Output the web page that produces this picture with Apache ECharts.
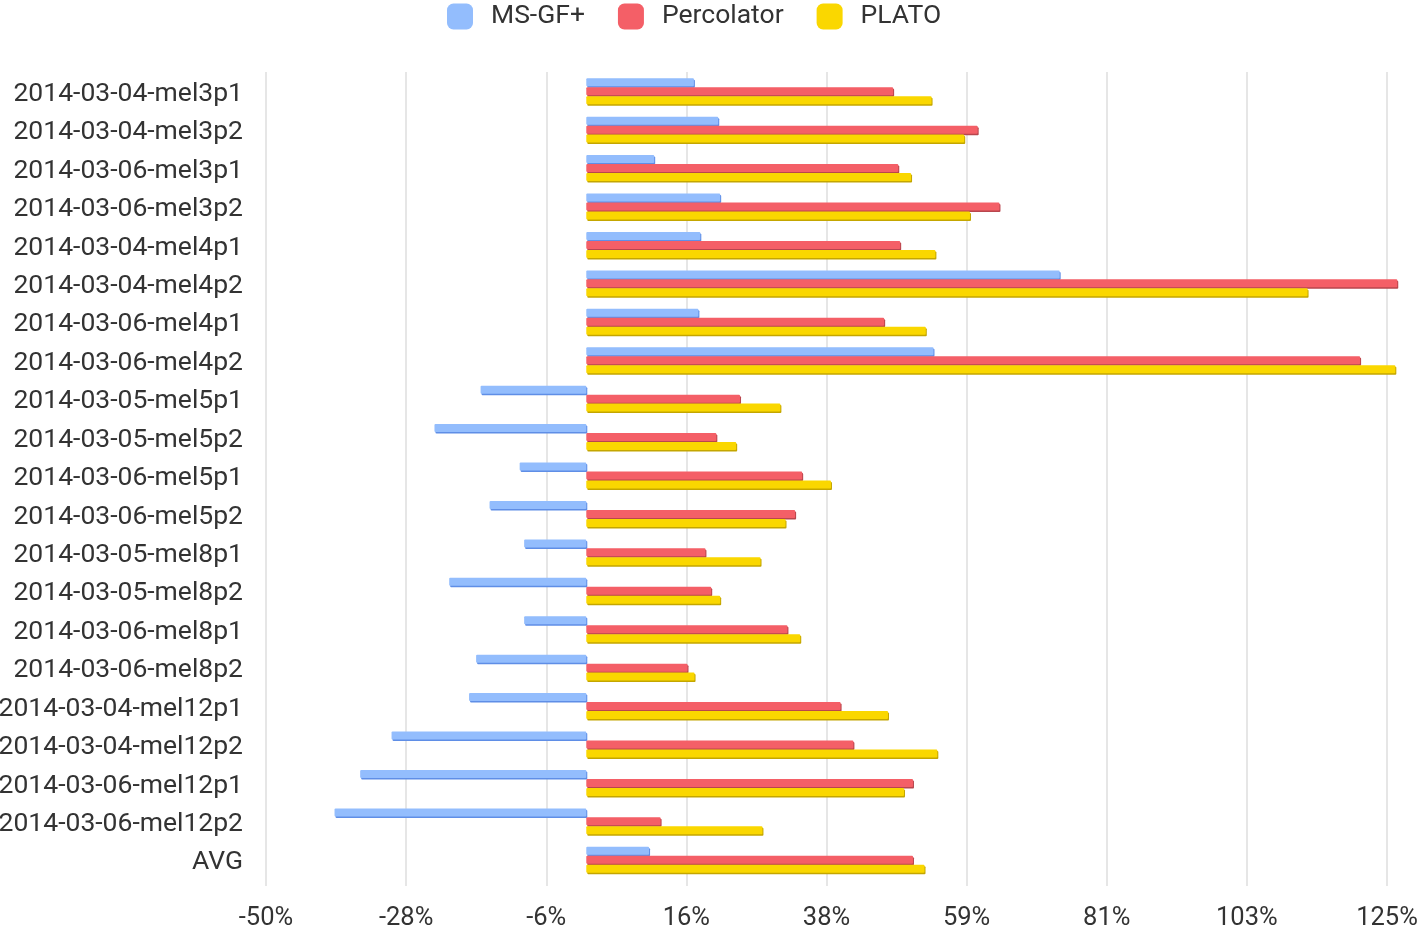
<!DOCTYPE html>
<html>
<head>
<meta charset="utf-8">
<script src="https://cdn.jsdelivr.net/npm/echarts@6/dist/echarts.min.js"></script>
<style>
  html, body { margin: 0; padding: 0; background: #fff; }
  #chart { width: 1419px; height: 928px; }
</style>
</head>
<body>
<div id="chart"></div>
<script>
const categories = [
  '2014-03-04-mel3p1', '2014-03-04-mel3p2', '2014-03-06-mel3p1', '2014-03-06-mel3p2',
  '2014-03-04-mel4p1', '2014-03-04-mel4p2', '2014-03-06-mel4p1', '2014-03-06-mel4p2',
  '2014-03-05-mel5p1', '2014-03-05-mel5p2', '2014-03-06-mel5p1', '2014-03-06-mel5p2',
  '2014-03-05-mel8p1', '2014-03-05-mel8p2', '2014-03-06-mel8p1', '2014-03-06-mel8p2',
  '2014-03-04-mel12p1', '2014-03-04-mel12p2', '2014-03-06-mel12p1', '2014-03-06-mel12p2',
  'AVG'
];
const msgfValues = [
  16.8, 20.6, 10.6, 20.9, 17.8, 73.9, 17.5, 54.2,
  -16.5, -23.7, -10.4, -15.1, -9.7, -21.4, -9.7, -17.2,
  -18.3, -30.4, -35.3, -39.3, 9.8
];
const percolatorValues = [
  47.9, 61.1, 48.7, 64.5, 49.0, 126.6, 46.5, 120.8,
  24.0, 20.3, 33.7, 32.6, 18.6, 19.5, 31.4, 15.8,
  39.7, 41.7, 51.0, 11.6, 51.0
];
const platoValues = [
  53.9, 59.0, 50.7, 59.9, 54.5, 112.6, 53.0, 126.3,
  30.3, 23.4, 38.2, 31.1, 27.2, 20.9, 33.4, 16.9,
  47.1, 54.8, 49.6, 27.5, 52.8
];
const seriesNames = ['MS-GF+', 'Percolator', 'PLATO'];
const seriesColors = ['#93bdfd', '#f45f67', '#fad700'];
const shadowColors = ['#5f8ee6', '#b8464d', '#c4a600'];
const xMin = -50, xMax = 125, xInterval = 21.875;

const chart = echarts.init(document.getElementById('chart'), null, { renderer: 'canvas' });
const font = 'Roboto, "Noto Sans", sans-serif';
const allValues = [msgfValues, percolatorValues, platoValues];

const option = {
  animation: false,
  textStyle: { fontFamily: font },
  legend: {
    top: -2,
    left: 442,
    icon: 'roundRect',
    itemWidth: 26,
    itemHeight: 26,
    itemGap: 33,
    textStyle: { fontSize: 26.5, color: '#333', fontFamily: font, padding: [0, 0, 0, 13] },
    data: seriesNames
  },
  grid: { left: 266, right: 32, top: 72, bottom: 49, containLabel: false, outerBoundsMode: 'none' },
  xAxis: {
    type: 'value',
    min: xMin,
    max: xMax,
    interval: xInterval,
    axisLine: { show: false },
    axisTick: { show: true, length: 7, lineStyle: { color: '#e6e6e6', width: 2 } },
    splitLine: { show: true, lineStyle: { color: '#e6e6e6', width: 2 } },
    axisLabel: {
      fontSize: 25.5, color: '#333', margin: 27, fontFamily: font,
      formatter: v => Math.round(v) + '%'
    }
  },
  yAxis: {
    type: 'category',
    data: categories,
    inverse: true,
    axisLine: { show: false },
    axisTick: { show: false },
    axisLabel: {
      color: '#333', margin: 23,
      formatter: v => '{l|' + v + '}',
      rich: { l: { fontSize: 26.5, color: '#333', fontFamily: font, padding: [6, 0, 0, 0] } }
    }
  },
  series: seriesNames.map((name, i) => ({
    name: name,
    type: 'bar',
    data: allValues[i],
    barWidth: 8,
    barGap: '12%',
    clip: false,
    itemStyle: {
      color: seriesColors[i],
      shadowColor: shadowColors[i],
      shadowOffsetX: 1,
      shadowOffsetY: 1.5,
      shadowBlur: 0,
      borderRadius: 1
    }
  }))
};
chart.setOption(option);
</script>
</body>
</html>
